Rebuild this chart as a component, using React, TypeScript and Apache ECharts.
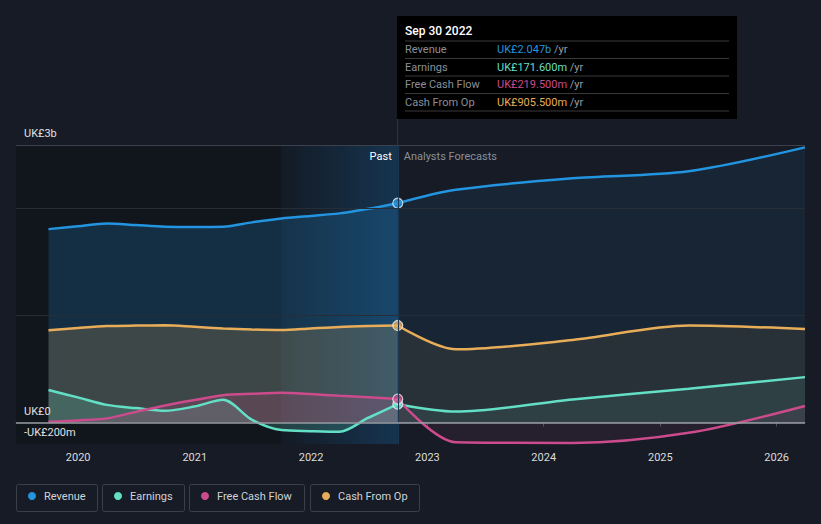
import React, { useEffect, useRef } from "react";
import * as echarts from "echarts";

const FONT = 'Roboto, "Noto Sans", sans-serif';

// ---- data ----
const pastDates = [
  "2019-09-30", "2019-12-31", "2020-03-31", "2020-06-30", "2020-09-30",
  "2020-12-31", "2021-03-31", "2021-06-30", "2021-09-30", "2021-12-31",
  "2022-03-31", "2022-06-30", "2022-09-30",
];
const revenuePast = [1805, 1832, 1858, 1843, 1828, 1826, 1828, 1868, 1905, 1928, 1952, 1995, 2047];
const earningsPast = [304, 235, 165, 135, 110, 150, 212, 25, -70, -80, -86, 45, 171.6];
const fcfPast = [8, 20, 39, 100, 160, 210, 255, 268, 278, 266, 250, 236, 219.5];
const cfoPast = [861, 882, 900, 905, 907, 893, 878, 868, 863, 878, 892, 900, 905.5];

const forecastDates = ["2022-09-30", "2023-03-31", "2024-03-31", "2025-03-31", "2026-03-31"];
const revenueFc = [2047, 2172, 2280, 2345, 2568];
const earningsFc = [171.6, 103, 216, 315, 424];
const fcfFc = [219.5, -184, -190, -96, 155];
const cfoFc = [905.5, 683, 770, 905, 873];

const seriesNames = ["Revenue", "Earnings", "Free Cash Flow", "Cash From Op"];
const seriesColors = ["#2394df", "#63dfc6", "#cc4b8c", "#e8ad59"];
const tooltipDate = "Sep 30 2022";
const tooltipValues = ["UK£2.047b", "UK£171.600m", "UK£219.500m", "UK£905.500m"];

const yLabels = [
  { value: 2590, text: "UK£3b" },
  { value: 0, text: "UK£0" },
  { value: -200, text: "-UK£200m" },
];
const yGrid = [1000, 2000];

const xMin = "2019-06-20";
const xMax = "2026-03-31";
const pastStart = "2021-09-30";
const nowDate = "2022-09-30";

function pairs(dates: string[], vals: number[]) {
  return dates.map((d, i) => [d, vals[i]]);
}

function buildOption() {
  const pastSets = [revenuePast, earningsPast, fcfPast, cfoPast];
  const fcSets = [revenueFc, earningsFc, fcfFc, cfoFc];
  const drawOrder = [0, 3, 1, 2];
  const series: any[] = [];

  series.push({
    type: "line",
    data: [],
    z: 0,
    silent: true,
    markArea: {
      silent: true,
      data: [
        [{ xAxis: xMin, itemStyle: { color: "#11151c" } }, { xAxis: pastStart }],
        [
          {
            xAxis: pastStart,
            itemStyle: {
              color: new echarts.graphic.LinearGradient(0, 0, 1, 0, [
                { offset: 0, color: "#131b25" },
                { offset: 1, color: "#16344f" },
              ]),
            },
            label: {
              show: true,
              position: "insideTopRight",
              formatter: "Past",
              color: "#ffffff",
              fontSize: 11,
              fontFamily: FONT,
              distance: 6,
            },
          },
          { xAxis: nowDate },
        ],
        [
          {
            xAxis: nowDate,
            itemStyle: { color: "rgba(0,0,0,0)" },
            label: {
              show: true,
              position: "insideTopLeft",
              formatter: "Analysts Forecasts",
              color: "#8a9099",
              fontSize: 11,
              fontFamily: FONT,
              distance: 6,
            },
          },
          { xAxis: xMax },
        ],
      ],
    },
    markLine: {
      silent: true,
      symbol: ["none", "none"],
      data: [
        ...yGrid.map((v) => ({
          yAxis: v,
          label: { show: false },
          lineStyle: { color: "#262d37", width: 1, type: "solid" },
        })),
        ...yLabels.map((l, i) => ({
          yAxis: l.value,
          label: {
            show: true,
            position: "insideStartTop",
            formatter: l.text,
            color: "#e0e0e0",
            fontSize: 11,
            fontFamily: FONT,
            distance: [8, 6],
          },
          lineStyle: {
            color: i === 0 ? "#3a414c" : "rgba(0,0,0,0)",
            width: 1,
            type: "solid",
          },
        })),
        {
          xAxis: nowDate,
          label: { show: false },
          lineStyle: { color: "#1d3750", width: 1, type: "solid" },
        },
      ],
    },
  });

  drawOrder.forEach((k) => {
    const c = seriesColors[k];
    series.push({
      name: seriesNames[k],
      type: "line",
      z: 2,
      symbol: "none",
      smooth: 0.3,
      lineStyle: { color: c, width: 2.5 },
      itemStyle: { color: c },
      areaStyle: { color: c, opacity: 0.2 },
      data: pairs(pastDates, pastSets[k]),
    });
    series.push({
      name: seriesNames[k],
      type: "line",
      z: 2,
      symbol: "none",
      smooth: 0.3,
      lineStyle: { color: c, width: 2.5 },
      itemStyle: { color: c },
      areaStyle: { color: c, opacity: 0.09 },
      data: pairs(forecastDates, fcSets[k]),
    });
  });

  // zero line on top
  series.push({
    type: "line",
    data: [],
    z: 3,
    silent: true,
    markLine: {
      silent: true,
      symbol: ["none", "none"],
      label: { show: false },
      data: [{ yAxis: 0, lineStyle: { color: "#9a9da3", width: 1.5, type: "solid" } }],
    },
  });

  // markers at the current date, on top of everything
  [0, 3, 1, 2].forEach((k) => {
    series.push({
      type: "scatter",
      z: 4,
      silent: true,
      symbol: "circle",
      symbolSize: 10,
      itemStyle: { color: seriesColors[k], borderColor: "#e8eef5", borderWidth: 1.2 },
      data: [[nowDate, pastSets[k][pastSets[k].length - 1]]],
    });
  });

  const graphic: any[] = [];

  graphic.push({
    type: "line",
    shape: { x1: 397.5, y1: 118, x2: 397.5, y2: 145 },
    style: { stroke: "#1d3750", lineWidth: 1 },
    z: 10,
  });

  // tooltip box
  const tx = 397, ty = 16;
  graphic.push({
    type: "rect",
    shape: { x: tx, y: ty, width: 340, height: 103 },
    style: { fill: "#000000" },
    z: 20,
  });
  graphic.push({
    type: "text",
    x: 405,
    y: 31,
    style: {
      text: tooltipDate,
      fill: "#ffffff",
      fontSize: 12,
      fontWeight: 500,
      fontFamily: FONT,
      verticalAlign: "middle",
    },
    z: 21,
  });
  const sepYs = [41, 58.5, 76, 93.5, 111];
  sepYs.forEach((y) =>
    graphic.push({
      type: "line",
      shape: { x1: 405, y1: y, x2: 729, y2: y },
      style: { stroke: "#3a3a3a", lineWidth: 1 },
      z: 21,
    })
  );
  const rowYs = [49.5, 67, 84.5, 102];
  seriesNames.forEach((n, i) => {
    graphic.push({
      type: "text",
      x: 405,
      y: rowYs[i],
      style: {
        text: n,
        fill: "#8a8f98",
        fontSize: 11,
        fontFamily: FONT,
        verticalAlign: "middle",
      },
      z: 21,
    });
    graphic.push({
      type: "text",
      x: 497,
      y: rowYs[i],
      style: {
        text: `{v|${tooltipValues[i]}} {u|/yr}`,
        fontSize: 11,
        fontFamily: FONT,
        verticalAlign: "middle",
        rich: {
          v: { fill: seriesColors[i], fontSize: 11, fontFamily: FONT },
          u: { fill: "#9a9ea5", fontSize: 11, fontFamily: FONT },
        },
      },
      z: 21,
    });
  });

  // legend
  const boxes = [
    [16, 81],
    [102, 82],
    [189, 115],
    [310, 109],
  ];
  boxes.forEach((b, i) => {
    graphic.push({
      type: "rect",
      shape: { x: b[0] + 0.5, y: 484.5, width: b[1], height: 27, r: 2 },
      style: { fill: "none", stroke: "#3a404a", lineWidth: 1 },
      z: 20,
    });
    graphic.push({
      type: "circle",
      shape: { cx: b[0] + 16, cy: 496, r: 4 },
      style: { fill: seriesColors[i] },
      z: 21,
    });
    graphic.push({
      type: "text",
      x: b[0] + 28,
      y: 496.5,
      style: {
        text: seriesNames[i],
        fill: "#d0d3d8",
        fontSize: 11,
        fontFamily: FONT,
        verticalAlign: "middle",
      },
      z: 21,
    });
  });

  return {
    animation: false,
    backgroundColor: "#161b25",
    textStyle: { fontFamily: FONT },
    grid: { left: 16, right: 16, top: 145, bottom: 80, containLabel: false },
    xAxis: {
      type: "time",
      min: xMin,
      max: xMax,
      minInterval: 365 * 86400000,
      splitNumber: 7,
      axisLine: { show: true, lineStyle: { color: "#4a4f58", width: 1 } },
      axisTick: { show: true, length: 4, lineStyle: { color: "#4a4f58" } },
      axisLabel: {
        formatter: "{yyyy}",
        color: "#dcdcdc",
        fontSize: 11,
        fontFamily: FONT,
        margin: 8,
      },
      splitLine: { show: false },
    },
    yAxis: {
      type: "value",
      min: -200,
      max: 2590,
      axisLabel: { show: false },
      axisLine: { show: false },
      axisTick: { show: false },
      splitLine: { show: false },
    },
    series,
    graphic,
  };
}

export default function App() {
  const ref = useRef<HTMLDivElement>(null);
  useEffect(() => {
    if (!ref.current) return;
    const chart = echarts.init(ref.current, null, { renderer: "svg" });
    chart.setOption(buildOption() as any);
    return () => chart.dispose();
  }, []);
  return (
    <div
      ref={ref}
      style={{ position: "fixed", left: 0, top: 0, width: 821, height: 524 }}
    />
  );
}
